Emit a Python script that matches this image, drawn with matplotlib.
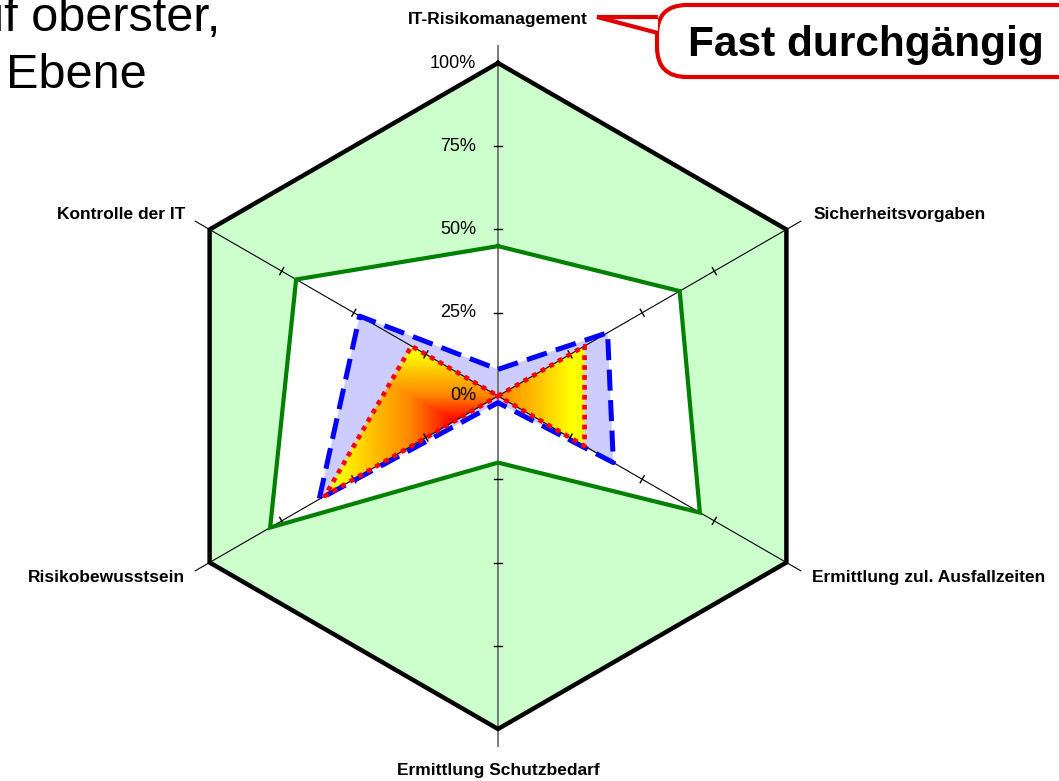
import numpy as np
import matplotlib.pyplot as plt
from matplotlib.patches import Polygon, FancyBboxPatch
from matplotlib.colors import LinearSegmentedColormap

plt.rcParams['font.family'] = ['Liberation Sans', 'DejaVu Sans']

# Categories, clockwise from the top
categories = ["IT-Risikomanagement", "Sicherheitsvorgaben", "Ermittlung zul. Ausfallzeiten",
              "Ermittlung Schutzbedarf", "Risikobewusstsein", "Kontrolle der IT"]
tick_values = [0, 25, 50, 75, 100]
tick_labels = ["0%", "25%", "50%", "75%", "100%"]

# Series values in percent
outer = [100, 100, 100, 100, 100, 100]
green_vals = [45, 63, 70, 20, 79, 70]
blue_vals = [8, 38, 40, 2, 62, 48]
red_vals = [0, 30, 30, 0, 60, 30]

n = len(categories)
angles = np.arange(n) * 2 * np.pi / n


def to_xy(vals):
    r = np.asarray(vals, dtype=float) / 100.0
    return np.column_stack([r * np.sin(angles), r * np.cos(angles)])


# figure in pixels: 1059 x 781, chart centre at (498, 396), 100% = 333 px
W, H = 1059, 781
cx, cy, R = 498, 396, 333
fig = plt.figure(figsize=(W / 100, H / 100), dpi=100)
ax = fig.add_axes([0, 0, 1, 1])
ax.set_xlim(-cx / R, (W - cx) / R)
ax.set_ylim(-(H - cy) / R, cy / R)
ax.axis('off')

# filled areas
ax.add_patch(Polygon(to_xy(outer), closed=True, facecolor='#ccffcc', edgecolor='none', zorder=1))
ax.add_patch(Polygon(to_xy(green_vals), closed=True, facecolor='white', edgecolor='none', zorder=2))
ax.add_patch(Polygon(to_xy(blue_vals), closed=True, facecolor='#ccccff', edgecolor='none', zorder=3))

# red series: path gradient from the centre of its bounding box, red -> yellow
red_xy = to_xy(red_vals)
x0, x1 = red_xy[:, 0].min(), red_xy[:, 0].max()
y0, y1 = red_xy[:, 1].min(), red_xy[:, 1].max()
gx, gy = np.meshgrid(np.linspace(x0, x1, 400), np.linspace(y0, y1, 300))
mx, my = (x0 + x1) / 2, (y0 + y1) / 2
d = np.maximum(np.abs(gx - mx) / ((x1 - x0) / 2), np.abs(gy - my) / ((y1 - y0) / 2))
cmap = LinearSegmentedColormap.from_list(
    'fire', [(0, '#ff0000'), (0.35, '#ff8800'), (0.65, '#ffc400'), (0.9, '#ffff00'), (1, '#ffff00')])
img = ax.imshow(d, cmap=cmap, vmin=0, vmax=1, extent=(x0, x1, y0, y1),
                origin='lower', zorder=4, interpolation='bilinear')
clip = Polygon(red_xy, closed=True, facecolor='none', edgecolor='none', transform=ax.transData)
ax.add_patch(clip)
img.set_clip_path(clip)

# category axes with tick marks
for i, a in enumerate(angles):
    col = '#707070' if i in (0, 3) else 'black'
    lw = 1.3 if i in (0, 3) else 0.8
    ax.plot([0, 1.05 * np.sin(a)], [0, 1.05 * np.cos(a)], color=col, lw=lw, zorder=5)
    for t in tick_values[1:-1]:
        r = t / 100
        px, py = r * np.sin(a), r * np.cos(a)
        nx, ny = np.cos(a) * 0.012, -np.sin(a) * 0.012
        ax.plot([px - nx, px + nx], [py - ny, py + ny], color='black', lw=1, zorder=5)

# value axis labels
for t, lab in zip(tick_values, tick_labels):
    ax.text(-0.065, t / 100, lab, ha='right', va='center', fontsize=13, zorder=8)

# series lines
def outline(vals, **kw):
    xy = to_xy(vals)
    xy = np.vstack([xy, xy[:1]])
    ax.plot(xy[:, 0], xy[:, 1], solid_joinstyle='miter', **kw)

outline(outer, color='black', lw=3.2, zorder=6)
outline(green_vals, color='#008000', lw=3, zorder=6)
outline(blue_vals, color='#0000ff', lw=3.6, dashes=(4.2, 1.9), dash_capstyle='butt', zorder=7)
outline(red_vals, color='#ff0000', lw=3.4, dashes=(1.0, 1.1), dash_capstyle='butt', zorder=7)

# category labels
lab_style = dict(fontsize=12.5, fontweight='bold', zorder=8)
ax.text(0, 1.13, categories[0], ha='center', va='center', **lab_style)
ax.text(0.947, 0.545, categories[1], ha='left', va='center', **lab_style)
ax.text(0.943, -0.545, categories[2], ha='left', va='center', **lab_style)
ax.text(0, -1.125, categories[3], ha='center', va='center', **lab_style)
ax.text(-0.94, -0.545, categories[4], ha='right', va='center', **lab_style)
ax.text(-0.94, 0.545, categories[5], ha='right', va='center', **lab_style)

# callout box with pointer
def px2d(x, y):
    return (x - cx) / R, (cy - y) / R

bx0, by0 = px2d(657, 77)
bx1, by1 = px2d(1120, 5)
box = FancyBboxPatch((bx0, by0), bx1 - bx0, by1 - by0,
                     boxstyle='round,pad=0,rounding_size=0.09',
                     facecolor='white', edgecolor='#e00000', lw=3, zorder=9)
ax.add_patch(box)
ptr = np.array([px2d(658, 17), px2d(597, 17), px2d(658, 33)])
ax.add_patch(Polygon(ptr, closed=False, facecolor='white', edgecolor='#e00000', lw=3,
                     joinstyle='miter', zorder=10))
ax.text(*px2d(688, 45), "Fast durchgängig", ha='left', va='center',
        fontsize=30.5, fontweight='bold', zorder=11)

# slide title fragments
ax.text(*px2d(220, 31), "auf oberster,", ha='right', va='baseline', fontsize=35, zorder=11)
ax.text(*px2d(6, 88), "Ebene", ha='left', va='baseline', fontsize=35, zorder=11)

fig.savefig('out.png', dpi=100)
